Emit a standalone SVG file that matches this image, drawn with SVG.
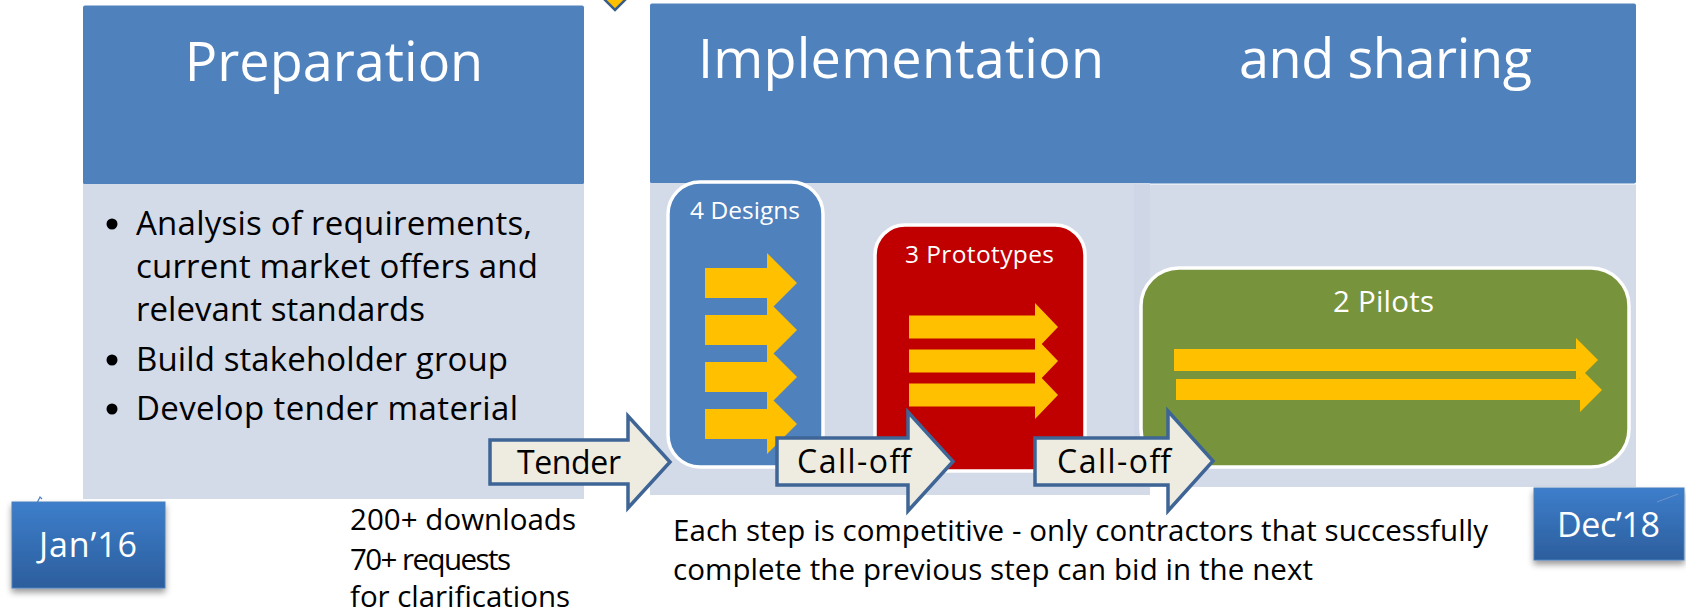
<svg xmlns="http://www.w3.org/2000/svg" width="1686" height="613" viewBox="0 0 1686 613">
<defs>
<style>
.hdr{fill:#4F81BD}
.body{fill:#D3DAE8}
.f{font-family:"Open Sans","Noto Sans","Liberation Sans",sans-serif}
.ht{font-size:54px;fill:#FFFFFF}
.bt{font-size:33px;fill:#000000}
.bul{fill:#000000}
.yel{fill:#FFC000}
.box{stroke:#FFFFFF;stroke-width:3.5}
.blk{fill:#EEECE1;stroke:#3E6595;stroke-width:3.5;stroke-linejoin:miter}
.lbl{font-size:32px;fill:#000000}
.note{font-size:29.5px;fill:#000000}
.inb{font-size:24.5px;fill:#FFFFFF}
.dt{font-size:34px;fill:#FFFFFF}
.date{fill:url(#dg);stroke:#4A7EBB;stroke-width:1}
</style>
<linearGradient id="dg" x1="0" y1="0" x2="0" y2="1">
<stop offset="0" stop-color="#3D7ECB"/>
<stop offset="1" stop-color="#2C5E9D"/>
</linearGradient>
<filter id="sh" x="-10%" y="-10%" width="120%" height="140%">
<feDropShadow dx="0" dy="4" stdDeviation="3" flood-color="#000000" flood-opacity="0.4"/>
</filter>
</defs>
<rect x="0" y="0" width="1686" height="613" fill="#FFFFFF"/>

<g id="marker-top">
<path d="M615,-16 L628,-3 L615,10 L602,-3 Z" fill="#FFC000" stroke="#385D8A" stroke-width="2.5"/>
</g>

<g id="preparation">
<rect class="hdr" x="83" y="5.5" width="501" height="179" rx="2"/>
<rect class="body" x="83" y="184" width="501" height="315"/>
<text class="f ht" x="334" y="81" text-anchor="middle">Preparation</text>
<circle class="bul" cx="112" cy="224" r="5.5"/>
<text class="f bt" x="136" y="235" textLength="396">Analysis of requirements,</text>
<text class="f bt" x="136" y="278" textLength="402">current market offers and</text>
<text class="f bt" x="136" y="321" textLength="289">relevant standards</text>
<circle class="bul" cx="112" cy="360" r="5.5"/>
<text class="f bt" x="136" y="371" textLength="372">Build stakeholder group</text>
<circle class="bul" cx="112" cy="409" r="5.5"/>
<text class="f bt" x="136" y="420" textLength="382">Develop tender material</text>
</g>

<g id="implementation">
<rect class="hdr" x="650" y="3.5" width="986" height="180" rx="2"/>
<rect class="body" x="650" y="183" width="500" height="312"/>
<rect class="body" x="1134" y="184.5" width="502" height="302.5"/>
<rect x="1134" y="184.5" width="16" height="302.5" fill="#CFD6E6"/>
<text class="f ht" x="698" y="78" textLength="406">Implementation</text>
<text class="f ht" x="1239" y="78" textLength="293">and sharing</text>
</g>

<g id="designs">
<rect class="box" x="668" y="182" width="155" height="285" rx="32" fill="#4F81BD"/>
<text class="f inb" x="690" y="219" textLength="110">4 Designs</text>
<path class="yel" d="M705,268 H767 V253 L797,283 L767,313 V298 H705 Z"/>
<path class="yel" d="M705,315 H767 V300 L797,330 L767,360 V345 H705 Z"/>
<path class="yel" d="M705,362 H767 V347 L797,377 L767,407 V392 H705 Z"/>
<path class="yel" d="M705,409 H767 V394 L797,424 L767,454 V439 H705 Z"/>
</g>

<g id="prototypes">
<rect class="box" x="875" y="225" width="210" height="246" rx="30" fill="#C00000"/>
<text class="f inb" x="905" y="263" textLength="149">3 Prototypes</text>
<path class="yel" d="M909,315.5 H1035 V303 L1058,327 L1035,351 V338.5 H909 Z"/>
<path class="yel" d="M909,349.5 H1035 V337 L1058,361 L1035,385 V372.5 H909 Z"/>
<path class="yel" d="M909,383.5 H1035 V371 L1058,395 L1035,419 V406.5 H909 Z"/>
</g>

<g id="pilots">
<rect class="box" x="1141" y="268" width="488" height="199" rx="38" fill="#77933C"/>
<text class="f" x="1333" y="312" font-size="29.5" fill="#FFFFFF" textLength="101">2 Pilots</text>
<path class="yel" d="M1174,349 H1576 V338 L1598,360 L1576,382 V371 H1174 Z"/>
<path class="yel" d="M1176,379 H1580 V368 L1602,390 L1580,412 V400 H1176 Z"/>
</g>

<g id="connectors">
<g id="tender">
<path class="blk" d="M490,440 H628 V416 L670,462 L628,508 V484 H490 Z"/>
<text class="f lbl" x="517" y="474" textLength="104">Tender</text>
</g>
<g id="calloff-1">
<path class="blk" d="M777,438 H908 V412 L953,461.5 L908,511 V485 H777 Z"/>
<text class="f lbl" x="797" y="473" textLength="114">Call-off</text>
</g>
<g id="calloff-2">
<path class="blk" d="M1035,438 H1168 V411 L1213,461 L1168,511 V485 H1035 Z"/>
<text class="f lbl" x="1057" y="473" textLength="114">Call-off</text>
</g>
</g>

<g id="tender-stats">
<text class="f note" x="350" y="530" textLength="226">200+ downloads</text>
<text class="f note" x="350" y="569.5" textLength="161">70+ requests</text>
<text class="f note" x="350" y="607" textLength="220">for clarifications</text>
</g>

<g id="competition-note">
<text class="f note" x="673" y="541" textLength="815">Each step is competitive - only contractors that successfully</text>
<text class="f note" x="673" y="580" textLength="640">complete the previous step can bid in the next</text>
</g>

<g id="jan16">
<path d="M37,503 L40,497 L42,499" fill="none" stroke="#4F81BD" stroke-width="1.2"/>
<rect class="date" x="12" y="502" width="153" height="86" filter="url(#sh)"/>
<text class="f dt" x="39" y="557" textLength="98">Jan’16</text>
</g>

<g id="dec18">
<rect class="date" x="1534" y="488" width="150" height="72" filter="url(#sh)"/>
<path d="M1657,502 L1678,494" fill="none" stroke="#6F95C8" stroke-width="1"/>
<text class="f dt" x="1557" y="537" font-size="33.5" textLength="103">Dec’18</text>
</g>
</svg>
